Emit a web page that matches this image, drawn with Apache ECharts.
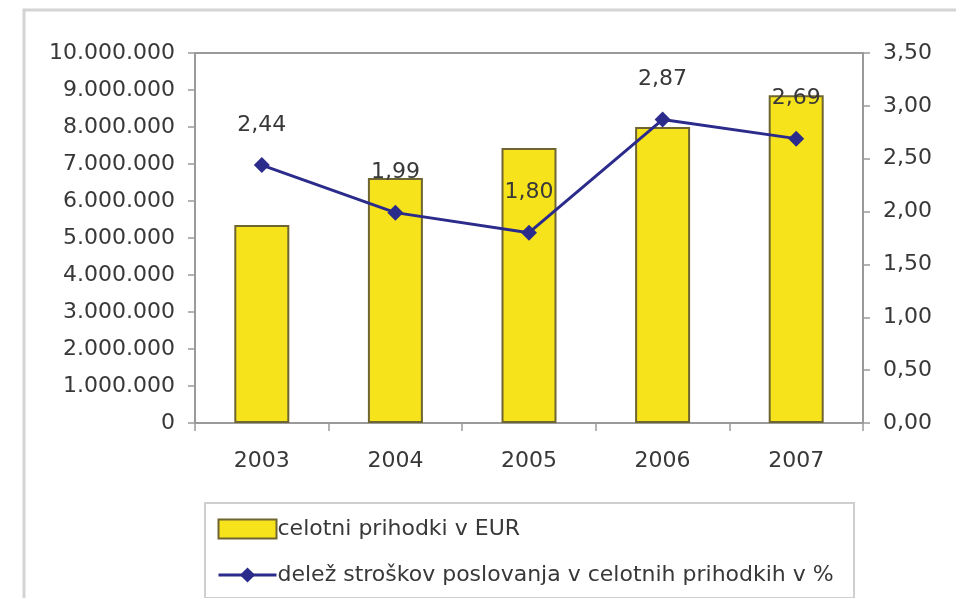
<!DOCTYPE html>
<html>
<head>
<meta charset="utf-8">
<script src="https://cdn.jsdelivr.net/npm/echarts@6/dist/echarts.min.js"></script>
<style>
  html, body { margin: 0; padding: 0; background: #fff; }
  #chart { width: 956px; height: 598px; }
</style>
</head>
<body>
<div id="chart"></div>
<script>
// podatki
var years = ['2003', '2004', '2005', '2006', '2007'];
var prihodki = [5350000, 6620000, 7430000, 8000000, 8860000];
var delez = [2.44, 1.99, 1.80, 2.87, 2.69];

var FONT = 'DejaVu Sans, Verdana, sans-serif';
var TXT = '#383838';

// 10000000 -> 10.000.000
function fmtThousands(v) {
  return String(Math.round(v)).replace(/\B(?=(\d{3})+(?!\d))/g, '.');
}
// 2.5 -> 2,50
function fmtDec(v) {
  return v.toFixed(2).replace('.', ',');
}

var myChart = echarts.init(document.getElementById('chart'));
var option = {
  animation: false,
  backgroundColor: '#ffffff',
  textStyle: { fontFamily: FONT },
  graphic: [
    // zunanji okvir
    {
      type: 'rect',
      shape: { x: 24, y: 10, width: 1000, height: 700 },
      style: { fill: 'none', stroke: '#d4d4d4', lineWidth: 3 },
      silent: true
    },
    // okvir legende
    {
      type: 'rect',
      shape: { x: 205, y: 503, width: 649, height: 95 },
      style: { fill: 'none', stroke: '#cfcfcf', lineWidth: 2 },
      silent: true
    }
  ],
  grid: {
    left: 195,
    right: 93,
    top: 53,
    bottom: 175,
    show: true,
    borderColor: '#9a9a9a',
    borderWidth: 2,
    containLabel: false
  },
  legend: {
    orient: 'vertical',
    left: 212,
    top: 513,
    itemWidth: 58,
    itemHeight: 19,
    itemGap: 24,
    textStyle: { fontFamily: FONT, fontSize: 22, color: TXT, padding: [0, 0, 0, -4] },
    data: [
      { name: 'celotni prihodki v EUR', icon: 'rect' },
      {
        name: 'delež stroškov poslovanja v celotnih prihodkih v %',
        lineStyle: { width: 3, color: '#2b2b8c' }
      }
    ]
  },
  xAxis: {
    type: 'category',
    data: years,
    axisLine: { lineStyle: { color: '#9a9a9a', width: 2 } },
    axisTick: { show: true, length: 8, inside: false, lineStyle: { color: '#9a9a9a', width: 1.5 } },
    axisLabel: { fontFamily: FONT, fontSize: 22, color: TXT, margin: 27 }
  },
  yAxis: [
    {
      type: 'value',
      min: 0,
      max: 10000000,
      interval: 1000000,
      splitLine: { show: false },
      axisLine: { show: true, lineStyle: { color: '#9a9a9a', width: 2 } },
      axisTick: { show: true, length: 7, lineStyle: { color: '#9a9a9a', width: 1.5 } },
      axisLabel: {
        fontFamily: FONT, fontSize: 22, color: TXT, margin: 20,
        formatter: function (v) { return fmtThousands(v); }
      }
    },
    {
      type: 'value',
      min: 0,
      max: 3.5,
      interval: 0.5,
      splitLine: { show: false },
      axisLine: { show: true, lineStyle: { color: '#9a9a9a', width: 2 } },
      axisTick: { show: true, length: 7, lineStyle: { color: '#9a9a9a', width: 1.5 } },
      axisLabel: {
        fontFamily: FONT, fontSize: 22, color: TXT, margin: 20,
        formatter: function (v) { return fmtDec(v); }
      }
    }
  ],
  series: [
    {
      name: 'celotni prihodki v EUR',
      type: 'bar',
      yAxisIndex: 0,
      barWidth: 55,
      data: prihodki,
      itemStyle: { color: '#f7e31c', borderColor: '#6f6530', borderWidth: 2 }
    },
    {
      name: 'delež stroškov poslovanja v celotnih prihodkih v %',
      type: 'line',
      yAxisIndex: 1,
      data: delez,
      symbol: 'diamond',
      symbolSize: 16,
      lineStyle: { color: '#2b2b8c', width: 3 },
      itemStyle: { color: '#2b2b8c' },
      label: {
        show: true,
        position: 'top',
        distance: 21,
        fontFamily: FONT,
        fontSize: 22,
        color: TXT,
        formatter: function (p) { return fmtDec(p.value); }
      },
      z: 5
    }
  ]
};
myChart.setOption(option);
</script>
</body>
</html>
